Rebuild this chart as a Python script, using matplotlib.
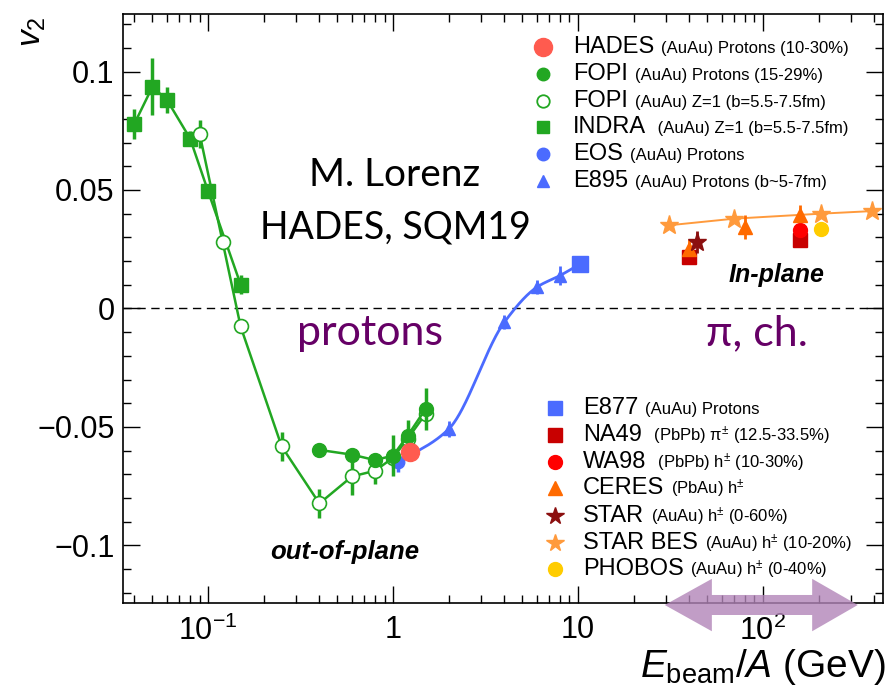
import numpy as np
import matplotlib.pyplot as plt
from matplotlib.patches import Polygon
from matplotlib.ticker import FixedLocator, LogLocator, MultipleLocator, NullFormatter, FuncFormatter

plt.rcParams['font.family'] = ['Liberation Sans', 'DejaVu Sans']
plt.rcParams['mathtext.fontset'] = 'custom'
plt.rcParams['mathtext.rm'] = 'Liberation Sans'
plt.rcParams['mathtext.it'] = 'Liberation Sans:italic'
plt.rcParams['mathtext.bf'] = 'Liberation Sans:bold'

# INDRA Z=1 (filled squares)
indra_e = [0.04, 0.05, 0.06, 0.08, 0.1, 0.15]
indra_v2 = [0.078, 0.0935, 0.088, 0.0717, 0.0495, 0.0101]
indra_err = [0.0063, 0.012, 0.0053, 0.003, 0.003, 0.004]

# FOPI Z=1 (open circles)
fopi_z1_e = [0.09, 0.12, 0.15, 0.25, 0.4, 0.6, 0.8, 1.0, 1.2, 1.5]
fopi_z1_v2 = [0.0738, 0.028, -0.0076, -0.0582, -0.0823, -0.0709, -0.0685, -0.063, -0.055, -0.0445]
fopi_z1_err = [0.0059, 0.001, 0.001, 0.006, 0.0063, 0.008, 0.0055, 0.004, 0.003, 0.003]

# FOPI protons (filled circles)
fopi_p_e = [0.4, 0.6, 0.8, 1.0, 1.2, 1.5]
fopi_p_v2 = [-0.0597, -0.0617, -0.064, -0.0621, -0.0537, -0.0424]
fopi_p_err = [0.001, 0.002, 0.002, 0.0085, 0.0068, 0.009]

# HADES protons
hades_e = [1.23]
hades_v2 = [-0.0605]

# EOS, E895, E877 protons
eos_e = [1.07]
eos_v2 = [-0.065]
eos_err = [0.004]
e895_e = [2.0, 4.0, 6.0, 8.0]
e895_v2 = [-0.0509, -0.0058, 0.009, 0.0139]
e895_err = [0.0035, 0.003, 0.003, 0.004]
e877_e = [10.2]
e877_v2 = [0.0186]

# pions / charged hadrons
star_bes_e = [31, 70, 205, 390]
star_bes_v2 = [0.0351, 0.0379, 0.0400, 0.0411]
ceres_e = [40, 80, 158]
ceres_v2 = [0.0252, 0.0344, 0.0393]
ceres_err = [0.004, 0.005, 0.0045]
na49_e = [40, 158]
na49_v2 = [0.0217, 0.0287]
wa98_e = [158]
wa98_v2 = [0.033]
star_e = [44]
star_v2 = [0.028]
star_err = [0.0045]
phobos_e = [205]
phobos_v2 = [0.0335]
phobos_err = [0.003]

GREEN = '#22a722'
BLUE = '#4b6bff'
PURPLE = '#660066'


def smooth_log(x, y, num=200):
    # monotone cubic through the points, in log10(x)
    lx = np.log10(x)
    y = np.asarray(y, float)
    h = np.diff(lx)
    d = np.diff(y) / h
    m = np.empty_like(y)
    m[0], m[-1] = d[0], d[-1]
    for k in range(1, len(y) - 1):
        if d[k - 1] * d[k] <= 0:
            m[k] = 0
        else:
            w1 = 2 * h[k] + h[k - 1]
            w2 = h[k] + 2 * h[k - 1]
            m[k] = (w1 + w2) / (w1 / d[k - 1] + w2 / d[k])
    xs = np.linspace(lx[0], lx[-1], num)
    i = np.clip(np.searchsorted(lx, xs) - 1, 0, len(h) - 1)
    t = (xs - lx[i]) / h[i]
    ys = ((2 * t**3 - 3 * t**2 + 1) * y[i] + (t**3 - 2 * t**2 + t) * h[i] * m[i]
          + (-2 * t**3 + 3 * t**2) * y[i + 1] + (t**3 - t**2) * h[i] * m[i + 1])
    return 10**xs, ys


fig = plt.figure(figsize=(8.96, 6.87), dpi=100)
ax = fig.add_axes([0.1373, 0.1223, 0.848, 0.8574])

ax.axhline(0, color='k', lw=1, ls=(0, (6, 4)), zorder=1)

# low energy proton/fragment flow
ax.errorbar(indra_e, indra_v2, yerr=indra_err, color=GREEN, marker='s', ms=10,
            lw=1.8, elinewidth=2.5, capsize=0, zorder=3)
ax.errorbar(fopi_z1_e, fopi_z1_v2, yerr=fopi_z1_err, color=GREEN, marker='o', ms=10,
            mfc='white', mew=1.2, lw=1.8, elinewidth=2.5, capsize=0, zorder=3)
ax.errorbar(fopi_p_e, fopi_p_v2, yerr=fopi_p_err, color=GREEN, marker='o', ms=10,
            lw=1.8, elinewidth=2.5, capsize=0, zorder=4)

# AGS energies
cx, cy = smooth_log(eos_e + e895_e + e877_e, eos_v2 + e895_v2 + e877_v2)
ax.plot(cx, cy, color=BLUE, lw=2, zorder=2)
ax.errorbar(eos_e, eos_v2, yerr=eos_err, color=BLUE, marker='o', ms=9, ls='none',
            elinewidth=2.5, capsize=0, zorder=3)
ax.errorbar(e895_e, e895_v2, yerr=e895_err, color=BLUE, marker='^', ms=9, ls='none',
            elinewidth=2, capsize=0, zorder=3)
ax.plot(e877_e, e877_v2, color=BLUE, marker='s', ms=11, ls='none', zorder=3)

ax.plot(hades_e, hades_v2, color='#ff5b4f', marker='o', ms=13, ls='none', zorder=5)

# SPS / RHIC
ax.plot(star_bes_e, star_bes_v2, color='#ff9a3c', marker='*', ms=14, lw=1.4, zorder=3)
ax.errorbar(ceres_e, ceres_v2, yerr=ceres_err, color='#ff6a00', marker='^', ms=10,
            ls='none', elinewidth=2, capsize=0, zorder=4)
ax.plot(na49_e, na49_v2, color='#c80000', marker='s', ms=10, ls='none', zorder=4)
ax.plot(wa98_e, wa98_v2, color='#ff0000', marker='o', ms=10, ls='none', zorder=4)
ax.errorbar(star_e, star_v2, yerr=star_err, color='#8b0f0f', marker='*', ms=14,
            ls='none', elinewidth=2, capsize=0, zorder=4)
ax.errorbar(phobos_e, phobos_v2, yerr=phobos_err, color='#ffcc00', marker='o', ms=10,
            ls='none', elinewidth=2, capsize=0, zorder=4)

# axes
ax.set_xscale('log')
ax.set_xlim(0.0347, 445)
ax.set_ylim(-0.1243, 0.1243)
ax.xaxis.set_major_locator(FixedLocator([0.1, 1, 10, 100]))
ax.xaxis.set_minor_locator(LogLocator(base=10, subs=np.arange(2, 10), numticks=20))
ax.xaxis.set_minor_formatter(NullFormatter())
xlabels = {0.1: r'$10^{-1}$', 1: '1', 10: '10', 100: r'$10^2$'}
ax.xaxis.set_major_formatter(FuncFormatter(lambda v, p: xlabels.get(round(v, 3), '')))
ax.yaxis.set_major_locator(MultipleLocator(0.05))
ax.yaxis.set_minor_locator(MultipleLocator(0.01))
ax.yaxis.set_major_formatter(FuncFormatter(lambda v, p: f'{v:g}'.replace('-', '\u2212') if abs(v) > 1e-9 else '0'))
ax.tick_params(which='both', direction='in', top=True, right=True, width=1, labelsize=22)
ax.tick_params(which='major', length=12)
ax.tick_params(which='minor', length=6)
ax.tick_params(axis='x', pad=9)
ax.tick_params(axis='y', pad=6)
for s in ax.spines.values():
    s.set_linewidth(1.2)

fig.text(32 / 896, 1 - 32 / 687, r'$v_2$', rotation=90, ha='center', va='center', fontsize=24)
fig.text(886 / 896, 1 - 667 / 687, r'$E_{\mathrm{beam}}/A$ (GeV)', ha='right', va='center', fontsize=28)

# labels inside the frame
fig.text(395 / 896, 1 - 175 / 687, 'M. Lorenz', ha='center', va='center', fontsize=28,
         family=['Lato', 'DejaVu Sans'])
fig.text(395 / 896, 1 - 228 / 687, 'HADES, SQM19', ha='center', va='center', fontsize=27,
         family=['Lato', 'DejaVu Sans'])
fig.text(370 / 896, 1 - 333 / 687, 'protons', ha='center', va='center', fontsize=31,
         color=PURPLE, family=['Lato', 'DejaVu Sans'])
fig.text(757 / 896, 1 - 333 / 687, '\u03c0, ch.', ha='center', va='center', fontsize=31,
         color=PURPLE, family=['Lato', 'DejaVu Sans'])
fig.text(345 / 896, 1 - 552 / 687, 'out-of-plane', ha='center', va='center', fontsize=18.5,
         fontweight='bold', style='italic')
fig.text(776 / 896, 1 - 275 / 687, 'In-plane', ha='center', va='center', fontsize=18,
         fontweight='bold', style='italic')


def legend_row(xm, xt, y, name, detail, **mk):
    ax.plot([xm], [y], transform=ax.transAxes, clip_on=False, ls='none', **mk)
    t = ax.text(xt, y, name, transform=ax.transAxes, fontsize=17, va='center')
    ax.annotate(detail, xy=(1, 0), xycoords=t, xytext=(5, 3.6), textcoords='offset points',
                fontsize=12, va='baseline')


rows_top = [0.944, 0.898, 0.852, 0.808, 0.762, 0.716]
legend_row(0.5526, 0.592, rows_top[0], 'HADES', '(AuAu) Protons (10-30%)', marker='o', ms=13, color='#ff5b4f')
legend_row(0.5526, 0.592, rows_top[1], 'FOPI', '(AuAu) Protons (15-29%)', marker='o', ms=9, color=GREEN)
legend_row(0.5526, 0.592, rows_top[2], 'FOPI', '(AuAu) Z=1 (b=5.5-7.5fm)', marker='o', ms=9,
           color=GREEN, mfc='white', mew=1.3)
legend_row(0.5526, 0.592, rows_top[3], 'INDRA', ' (AuAu) Z=1 (b=5.5-7.5fm)', marker='s', ms=9, color=GREEN)
legend_row(0.5526, 0.592, rows_top[4], 'EOS', '(AuAu) Protons', marker='o', ms=9, color=BLUE)
legend_row(0.5526, 0.592, rows_top[5], 'E895', '(AuAu) Protons (b~5-7fm)', marker='^', ms=9, color=BLUE)

rows_bot = [0.331, 0.285, 0.239, 0.195, 0.148, 0.102, 0.058]
pm = r'$^{\pm}$'
legend_row(0.568, 0.605, rows_bot[0], 'E877', '(AuAu) Protons', marker='s', ms=10, color=BLUE)
legend_row(0.568, 0.605, rows_bot[1], 'NA49', ' (PbPb) \u03c0' + pm + ' (12.5-33.5%)', marker='s', ms=10, color='#c80000')
legend_row(0.568, 0.605, rows_bot[2], 'WA98', ' (PbPb) h' + pm + ' (10-30%)', marker='o', ms=10, color='#ff0000')
legend_row(0.568, 0.605, rows_bot[3], 'CERES', '(PbAu) h' + pm, marker='^', ms=10, color='#ff6a00')
legend_row(0.568, 0.605, rows_bot[4], 'STAR', '(AuAu) h' + pm + ' (0-60%)', marker='*', ms=13, color='#8b0f0f')
legend_row(0.568, 0.605, rows_bot[5], 'STAR BES', '(AuAu) h' + pm + ' (10-20%)', marker='*', ms=13, color='#ff9a3c')
legend_row(0.568, 0.605, rows_bot[6], 'PHOBOS', '(AuAu) h' + pm + ' (0-40%)', marker='o', ms=10, color='#ffcc00')

# double arrow marking the pion energy range
arrow = Polygon([(0.713, -0.0034), (0.775, 0.041), (0.775, 0.0136), (0.907, 0.0136),
                 (0.907, 0.041), (0.967, -0.0034), (0.907, -0.048), (0.907, -0.0204),
                 (0.775, -0.0204), (0.775, -0.048)],
                closed=True, transform=ax.transAxes, clip_on=False,
                facecolor='#b285b8', edgecolor='none', alpha=0.8, zorder=10)
ax.add_patch(arrow)

fig.savefig('out.png', dpi=100)
